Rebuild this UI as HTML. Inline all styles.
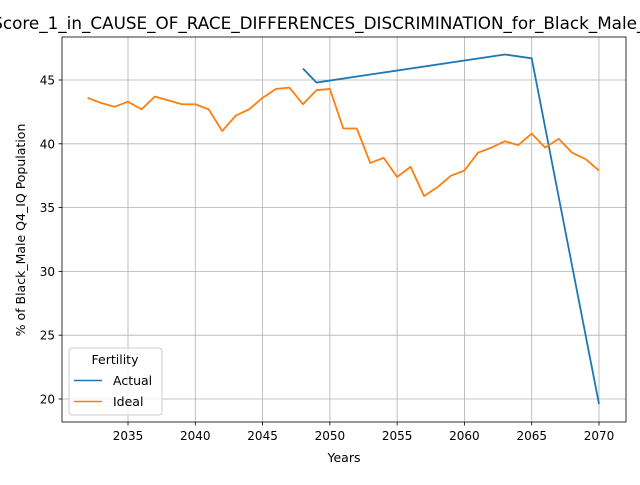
<!DOCTYPE html>
<html><head><meta charset="utf-8"><style>
body{margin:0;background:#fff;font-family:"Liberation Sans","DejaVu Sans",sans-serif}
svg text{font-family:"DejaVu Sans","Liberation Sans",sans-serif;}
</style></head><body>
<svg id="chart" width="640" height="480" viewBox="0 0 640 480"></svg>
<script>
const idealYears=[2032,2033,2034,2035,2036,2037,2038,2039,2040,2041,2042,2043,2044,2045,2046,2047,2048,2049,2050,2051,2052,2053,2054,2055,2056,2057,2058,2059,2060,2061,2062,2063,2064,2065,2066,2067,2068,2069,2070];
const idealValues=[43.6,43.2,42.9,43.3,42.7,43.7,43.4,43.1,43.1,42.7,41.0,42.2,42.7,43.6,44.3,44.4,43.1,44.2,44.3,41.2,41.2,38.5,38.9,37.4,38.2,35.9,36.6,37.5,37.9,39.3,39.7,40.2,39.9,40.8,39.7,40.4,39.3,38.8,37.9];
const actualYears=[2048,2049,2063,2065,2070];
const actualValues=[45.9,44.8,47.0,46.7,19.6];
const xTicks=[2035,2040,2045,2050,2055,2060,2065,2070];
const yTicks=[20,25,30,35,40,45];
const L=62,R=626,T=37,B=422;
const xs=v=>128+(v-2035)*(599-128)/35;
const ys=v=>399-(v-20)*(399-80)/25;
const svg=document.getElementById('chart');
const NS='http://www.w3.org/2000/svg';
function mk(tag,attrs,parent){const e=document.createElementNS(NS,tag);for(const k in attrs)e.setAttribute(k,attrs[k]);(parent||svg).appendChild(e);return e;}
let t=mk('text',{x:344,y:29,'text-anchor':'middle','font-size':16.8});t.textContent='Score_1_in_CAUSE_OF_RACE_DIFFERENCES_DISCRIMINATION_for_Black_Male_Q4_IQ';


xTicks.forEach(v=>{const x=xs(v);
const g=mk('line',{x1:x,x2:x,y1:T,y2:B,stroke:'#b0b0b0','stroke-width':0.8});


mk('line',{x1:x,x2:x,y1:B,y2:B+3.5,stroke:'#000','stroke-width':0.8});
const l=mk('text',{x:x,y:B+18,'text-anchor':'middle','font-size':12});l.textContent=v;

});
yTicks.forEach(v=>{const y=ys(v);
const g=mk('line',{x1:L,x2:R,y1:y,y2:y,stroke:'#b0b0b0','stroke-width':0.8});


mk('line',{x1:L-3.5,x2:L,y1:y,y2:y,stroke:'#000','stroke-width':0.8});
const l=mk('text',{x:L-7,y:y+4.5,'text-anchor':'end','font-size':12});l.textContent=v;

});
const fr=mk('rect',{x:L,y:T,width:R-L,height:B-T,fill:'none',stroke:'#000','stroke-width':0.8});


function line(xv,yv,c,name){const p=mk('polyline',{points:xv.map((x,i)=>xs(x)+','+ys(yv[i])).join(' '),fill:'none',stroke:c,'stroke-width':1.8,'stroke-linejoin':'round'});

}
line(actualYears,actualValues,'#1f77b4','actual-line');
line(idealYears,idealValues,'#ff7f0e','ideal-line');
const xl=mk('text',{x:344,y:462,'text-anchor':'middle','font-size':12.5});xl.textContent='Years';


const yl=mk('text',{x:0,y:0,'text-anchor':'middle','font-size':12.5,transform:'translate(25,230) rotate(-90)'});yl.textContent='% of Black_Male Q4_IQ Population';


const lg=mk('g',{});


mk('rect',{x:69,y:348,width:93,height:67,rx:3,fill:'#fff','fill-opacity':0.8,stroke:'#ccc'},lg);
const lt=mk('text',{x:115,y:364,'text-anchor':'middle','font-size':12.5},lg);lt.textContent='Fertility';
[['Actual','#1f77b4',385],['Ideal','#ff7f0e',406]].forEach(([n,c,y])=>{
const e=mk('g',{},lg);


mk('line',{x1:74,x2:102,y1:y-4.5,y2:y-4.5,stroke:c,'stroke-width':1.5},e);
const tx=mk('text',{x:113,y:y,'font-size':12.5},e);tx.textContent=n;});
</script>
</body></html>
